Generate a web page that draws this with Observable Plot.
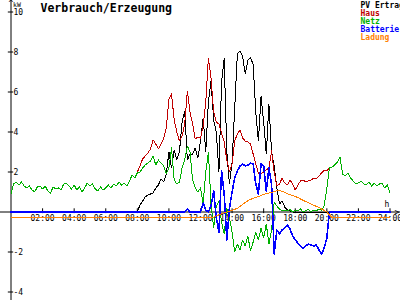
<!DOCTYPE html>
<html><head><meta charset="utf-8">
<script src="https://cdn.jsdelivr.net/npm/d3@7"></script>
<script src="https://cdn.jsdelivr.net/npm/@observablehq/plot@0.6"></script>
<style>html,body{margin:0;padding:0;background:#fff;overflow:hidden}</style>
</head><body><div id="chart"></div>
<script>
const title = "Verbrauch/Erzeugung";
const seriesNames = ["PV Ertrag", "Haus", "Netz", "Batterie", "Ladung"];
const seriesColors = ["#000000", "#c00000", "#00b000", "#0000ff", "#ff8000"];
const stepMinutes = 10;

const pv = [
0,0,0,0,0,0,0,0,0,0,0,0, 0,0,0,0,0,0,0,0,0,0,0,0,
0,0,0,0,0,0,0,0,0,0,0,0, 0,0,0,0,0,0,0,0,0,0,0,0,
0.00,0.35,0.55,0.75,0.85,0.90,0.95,1.20,1.35,1.65,1.50,1.90,
3.00,2.20,3.10,2.60,3.00,4.50,5.05,2.60,2.90,2.90,3.20,2.70,
3.55,4.70,3.00,5.50,6.55,4.60,4.00,2.00,6.50,7.70,3.00,1.40,
2.50,5.20,7.90,8.05,7.80,6.90,7.60,7.70,7.40,5.00,3.55,5.80,
4.50,2.90,5.40,3.00,2.30,1.20,0.40,0.55,0.25,0.10,0.05,0,
0,0,0,0,0,0,0,0,0,0,0,0, 0,0,0,0,0,0,0,0,0,0,0,0,
0,0,0,0,0,0,0,0,0,0,0,0, 0
];
const haus = [
0.90,1.40,1.50,1.35,1.50,1.30,1.20,1.30,1.10,1.00,1.25,1.30,
1.15,1.30,1.05,0.95,1.25,1.15,1.20,1.10,1.40,1.45,1.30,1.15,
1.35,1.10,1.25,1.00,1.20,1.45,1.30,1.40,1.15,1.05,1.25,1.10,
1.20,1.35,1.20,1.40,1.30,1.50,1.35,1.45,1.30,1.55,1.85,1.70,
2.00,2.30,2.65,2.80,2.95,3.15,3.60,3.40,3.15,3.40,3.65,4.20,
5.65,5.90,4.60,4.00,3.55,3.80,4.40,6.05,5.00,4.40,3.65,3.75,
3.70,4.30,5.50,7.70,6.70,5.00,4.50,4.40,3.95,3.50,2.60,2.00,
2.40,3.55,3.90,4.10,3.70,3.55,3.50,3.40,2.90,2.40,1.95,1.90,
2.00,2.10,2.20,3.05,2.00,1.30,1.40,1.70,1.45,1.35,1.60,1.40,
1.10,1.35,1.55,1.60,1.50,1.55,1.60,1.70,1.65,1.80,1.95,2.10,
2.05,2.20,2.25,2.35,2.50,2.75,1.90,1.80,1.95,1.70,1.55,1.40,
1.45,1.55,1.40,1.35,1.50,1.30,1.45,1.30,1.40,1.45,1.20,1.35,
0.95
];
const netz = [
0.90,1.40,1.50,1.35,1.50,1.30,1.20,1.30,1.10,1.00,1.25,1.30,
1.15,1.30,1.05,0.95,1.25,1.15,1.20,1.10,1.40,1.45,1.30,1.15,
1.35,1.10,1.25,1.00,1.20,1.45,1.30,1.40,1.15,1.05,1.25,1.10,
1.20,1.35,1.20,1.40,1.30,1.50,1.35,1.45,1.30,1.55,1.85,1.70,
1.95,2.00,2.20,2.35,2.45,2.55,2.80,2.35,2.60,2.45,2.30,1.90,
2.20,3.20,1.60,1.40,1.50,2.20,2.60,3.30,3.00,1.60,1.20,1.00,
1.20,0.40,2.00,3.00,0.40,-0.80,0.30,0.55,-0.50,-1.10,0.20,-0.30,
-1.00,-2.00,-1.60,-1.90,-1.40,-1.70,-1.20,-1.95,-1.50,-1.00,-1.40,-0.80,
-1.30,-0.60,-1.60,-0.90,0.50,0.30,0.15,0.05,0.10,0.05,0.12,0.00,
0.10,0.05,0.15,0.00,0.08,0.12,0.02,0.10,0.05,0.15,0.08,0.30,
1.20,2.20,2.25,2.35,2.50,2.75,1.90,1.80,1.95,1.70,1.55,1.40,
1.45,1.55,1.40,1.35,1.50,1.30,1.45,1.30,1.40,1.45,1.20,1.35,
0.95
];
const batterie = [
0,0,0,0,0,0,0,0,0,0,0,0, 0,0,0,0,0,0,0,0,0,0,0,0,
0,0,0,0,0,0,0,0,0,0,0,0, 0,0,0,0,0,0,0,0,0,0,0,0,
0,0,0,0,0,0,0,0,0,0,0,0,
0,0,0,0,0,0,0,0.15,0,0,0,0,
0,0.45,0.10,0.00,0.30,1.05,-0.30,-1.00,2.05,0.90,-1.40,0.20,
1.00,1.70,2.05,2.30,2.40,2.30,2.35,2.45,2.40,1.40,0.90,2.40,
2.30,1.05,2.20,1.40,-2.10,-0.90,-1.10,-0.90,-0.80,-0.65,-0.85,-1.20,
-1.40,-1.55,-1.70,-1.80,-1.70,-1.60,-1.65,-1.70,-1.65,-1.90,-2.10,-1.80,
-1.30,0,0,0,0,0,0,0,0,0,0,0,
0,0,0,0,0,0,0,0,0,0,0,0,
0
];
const ladung = [
-0.27,-0.27,-0.27,-0.27,-0.27,-0.27,-0.27,-0.27,-0.27,-0.27,-0.27,-0.27,
-0.27,-0.27,-0.27,-0.27,-0.27,-0.27,-0.27,-0.27,-0.27,-0.27,-0.27,-0.27,
-0.27,-0.27,-0.27,-0.27,-0.27,-0.27,-0.27,-0.27,-0.27,-0.27,-0.27,-0.27,
-0.27,-0.27,-0.27,-0.27,-0.27,-0.27,-0.27,-0.27,-0.27,-0.27,-0.27,-0.27,
-0.27,-0.27,-0.27,-0.27,-0.27,-0.27,-0.27,-0.27,-0.27,-0.27,-0.27,-0.27,
-0.27,-0.27,-0.27,-0.27,-0.27,-0.27,-0.27,-0.27,-0.27,-0.27,-0.27,-0.27,
-0.27,-0.27,-0.27,-0.27,-0.27,-0.25,-0.20,-0.14,-0.09,-0.04,0.00,0.04,
0.08,0.13,0.19,0.27,0.38,0.47,0.56,0.63,0.68,0.73,0.78,0.82,
0.88,0.92,0.95,0.98,1.02,1.06,1.08,1.03,0.98,0.92,0.86,0.82,
0.78,0.72,0.65,0.58,0.52,0.46,0.40,0.34,0.28,0.22,0.15,0.08,
0.00,-0.15,-0.27,-0.27,-0.27,-0.27,-0.27,-0.27,-0.27,-0.27,-0.27,-0.27,
-0.27,-0.27,-0.27,-0.27,-0.27,-0.27,-0.27,-0.27,-0.27,-0.27,-0.27,-0.27,
-0.27
];

const xTickHours = [2, 4, 6, 8, 10, 12, 14, 16, 18, 20, 22, 24];
const xTickLabels = ["02:00","04:00","06:00","08:00","10:00","12:00","14:00","16:00","18:00","20:00","22:00","24:00"];
const yTicks = [10, 8, 6, 4, 2, -2, -4];
const yUnit = "kW";
const xUnit = "h";

const seriesValues = [pv, haus, netz, batterie, ladung];
const rows = [];
seriesNames.forEach((name, s) => {
  seriesValues[s].forEach((v, i) => rows.push({series: name, t: i * stepMinutes / 60, v}));
});
const widths = {"PV Ertrag": 1, "Haus": 1, "Netz": 1, "Batterie": 1.6, "Ladung": 1};

const font = "DejaVu Sans Mono, monospace";
const chart = Plot.plot({
  width: 400, height: 300, margin: 0,
  x: {domain: [0, 24], range: [10.5, 389.5], axis: null},
  y: {domain: [-2, 10], range: [251.5, 11.5], axis: null},
  color: {domain: seriesNames, range: seriesColors},
  style: {fontFamily: font, fontSize: "8px", background: "#fff", color: "#000"},
  marks: [
    Plot.ruleX([0], {stroke: "#000", strokeWidth: 1}),
    Plot.ruleY([0], {stroke: "#000", strokeWidth: 1}),
    Plot.ruleY(yTicks, {x1: -0.17, x2: 0.17, stroke: "#000"}),
    Plot.ruleX(xTickHours, {y1: -0.08, y2: 0.16, stroke: "#000"}),
    Plot.text(yTicks, {x: 0, y: d => d, text: d => String(d), dx: 2.5, textAnchor: "start", fontSize: 8, fill: "#000"}),
    Plot.text(xTickHours, {x: d => d, y: 0, text: (d, i) => xTickLabels[i], dy: 6.5, fontSize: 8, fill: "#000"}),
    Plot.text([yUnit], {x: 0, y: 10, dx: 2, dy: -7, textAnchor: "start", fontSize: 6.5, fill: "#000"}),
    Plot.text(["^"], {x: 0, y: 10, dy: -9, fontSize: 8, fill: "#000"}),
    Plot.text([">"], {x: 24, y: 0, dx: 7, fontSize: 8, fill: "#000"}),
    Plot.text([xUnit], {x: 24, y: 0, dx: -3, dy: -8, fontSize: 8, fill: "#000"}),
    ...seriesNames.map(name => Plot.line(rows.filter(r => r.series === name), {
      x: "t", y: "v", stroke: "series", strokeWidth: widths[name], shapeRendering: "crispEdges"
    })),
    Plot.text([title], {frameAnchor: "top-left", dx: 40, dy: 3, lineAnchor: "top", textAnchor: "start",
      fontSize: 11.5, fontWeight: "bold", fill: "#000"}),
    ...seriesNames.map((name, i) => Plot.text([name], {frameAnchor: "top-left", dx: 360, dy: 2 + 7.9 * i,
      lineAnchor: "top", textAnchor: "start", fontSize: 8, fontWeight: "bold", fill: d => d}))
  ]
});
document.getElementById("chart").appendChild(chart);
</script>
</body></html>
